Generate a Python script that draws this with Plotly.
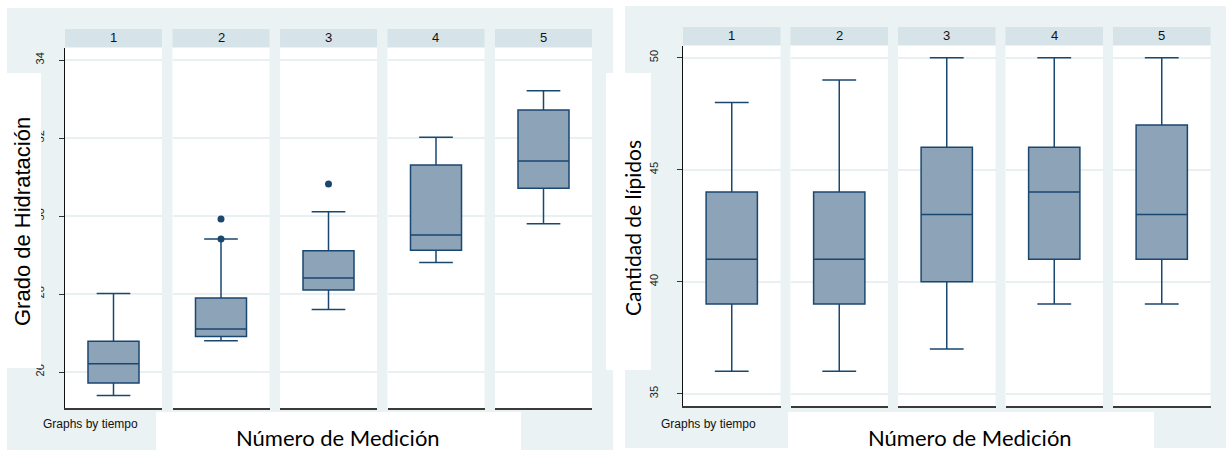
import plotly.graph_objects as go

W, H = 1226, 450

# ---------------- data ----------------
groups = ["1", "2", "3", "4", "5"]

# Left chart: Grado de Hidratación
hyd_low = [25.40, 26.80, 27.60, 28.81, 29.80]
hyd_q1 = [25.72, 26.91, 28.10, 29.12, 30.71]
hyd_median = [26.21, 27.10, 28.41, 29.51, 31.41]
hyd_q3 = [26.79, 27.90, 29.11, 31.31, 32.72]
hyd_high = [28.01, 29.41, 30.11, 32.02, 33.21]
hyd_outliers = [[], [29.92, 29.41], [30.82], [], []]
hyd_ticks = [26, 28, 30, 32, 34]

# Right chart: Cantidad de lípidos
lip_low = [36, 36, 37, 39, 39]
lip_q1 = [39, 39, 40, 41, 41]
lip_median = [41, 41, 43, 44, 43]
lip_q3 = [44, 44, 46, 46, 47]
lip_high = [48, 49, 50, 50, 50]
lip_ticks = [35, 40, 45, 50]

left_ytitle = "Grado de Hidratación"
right_ytitle = "Cantidad de lípidos"
xtitle = "Número de Medición"
note = "Graphs by tiempo"

# ---------------- style ----------------
BG = "#eaf2f3"
STRIP = "#d6e3e9"
NAVY = "#1a476f"
FILL = "#8da3b8"
GRID = "#e8f0f2"


def px(x):
    return x / W


def py(y):
    return 1 - y / H


fig = go.Figure()
layout = {}
shapes = []
annotations = []

charts = [
    dict(left=65, step=107.5, pw=97, top=48, bottom=408, strip=(29, 47),
         yr=(26 - 36 / 39, 34 + 12 / 39), ticks=hyd_ticks,
         low=hyd_low, q1=hyd_q1, med=hyd_median, q3=hyd_q3, high=hyd_high,
         out=hyd_outliers, standoff=10),
    dict(left=683, step=107.5, pw=97.5, top=46, bottom=406, strip=(27, 45),
         yr=(35 - 12.3 / 22.4, 50 + 11.7 / 22.4), ticks=lip_ticks,
         low=lip_low, q1=lip_q1, med=lip_median, q3=lip_q3, high=lip_high,
         out=[[], [], [], [], []], standoff=14),
]

# background panels (gray) and the white patches over them
shapes.append(dict(type="rect", xref="paper", yref="paper", layer="below",
                   x0=px(7), x1=px(613), y0=py(450), y1=py(8),
                   fillcolor=BG, line=dict(width=0)))
shapes.append(dict(type="rect", xref="paper", yref="paper", layer="below",
                   x0=px(625), x1=px(1226), y0=py(448), y1=py(6),
                   fillcolor=BG, line=dict(width=0)))
for (x0, y0, x1, y1, lay) in [(0, 73, 41, 368, "above"), (156, 412, 521, 450, "below"),
                              (606, 73, 651, 370, "below"), (788, 412, 1154, 448, "below")]:
    shapes.append(dict(type="rect", xref="paper", yref="paper", layer=lay,
                       x0=px(x0), x1=px(x1), y0=py(y1), y1=py(y0),
                       fillcolor="white", line=dict(width=0)))

k = 0
for c in charts:
    for i, g in enumerate(groups):
        k += 1
        xa = "x" if k == 1 else f"x{k}"
        ya = "y" if k == 1 else f"y{k}"
        x0 = c["left"] + c["step"] * i
        x1 = x0 + c["pw"]
        first = (i == 0)
        layout["xaxis" if k == 1 else f"xaxis{k}"] = dict(
            domain=[px(x0), px(x1)], anchor=ya, range=[-0.5, 0.5],
            showgrid=False, zeroline=False, showticklabels=False, ticks="",
            showline=True, linecolor="#3a3a3a", linewidth=1.6, mirror=False,
            fixedrange=True)
        layout["yaxis" if k == 1 else f"yaxis{k}"] = dict(
            domain=[py(c["bottom"]), py(c["top"])], anchor=xa,
            range=list(c["yr"]), tickvals=c["ticks"],
            showgrid=True, gridcolor=GRID, gridwidth=1.5, zeroline=False,
            showline=first, linecolor="#111111", linewidth=1.4,
            ticks="outside" if first else "", ticklen=5, tickwidth=1,
            tickcolor="#333333", showticklabels=first, tickangle=-90,
            ticklabelstandoff=c["standoff"],
            tickfont=dict(family="Liberation Sans, Arial", size=11, color="#222222"),
            fixedrange=True)
        fig.add_trace(go.Box(
            x=[0], q1=[c["q1"][i]], median=[c["med"][i]], q3=[c["q3"][i]],
            lowerfence=[c["low"][i]], upperfence=[c["high"][i]],
            width=0.526, whiskerwidth=0.66, boxpoints=False,
            fillcolor=FILL, line=dict(color=NAVY, width=1.5),
            xaxis=xa, yaxis=ya, showlegend=False, hoverinfo="skip"))
        if c["out"][i]:
            fig.add_trace(go.Scatter(
                x=[0] * len(c["out"][i]), y=c["out"][i], mode="markers",
                marker=dict(color=NAVY, size=7), xaxis=xa, yaxis=ya,
                showlegend=False, hoverinfo="skip"))
        # white plotting panel
        shapes.append(dict(type="rect", xref="paper", yref="paper", layer="below",
                           x0=px(x0), x1=px(x1), y0=py(c["bottom"]), y1=py(c["top"]),
                           fillcolor="white", line=dict(width=0)))
        # strip
        s0, s1 = c["strip"]
        shapes.append(dict(type="rect", xref="paper", yref="paper", layer="below",
                           x0=px(x0), x1=px(x1), y0=py(s1), y1=py(s0),
                           fillcolor=STRIP, line=dict(width=0)))
        annotations.append(dict(text=g, xref="paper", yref="paper",
                                x=px((x0 + x1) / 2), y=py((s0 + s1) / 2),
                                xanchor="center", yanchor="middle", showarrow=False,
                                font=dict(family="Liberation Sans, Arial", size=13,
                                          color="#111111")))

# titles
annotations += [
    dict(text=left_ytitle, xref="paper", yref="paper", x=px(22), y=py(222),
         textangle=-90, showarrow=False, xanchor="center", yanchor="middle",
         font=dict(family="Liberation Sans, Arial", size=22, color="#000000")),
    dict(text=right_ytitle, xref="paper", yref="paper", x=px(632), y=py(228),
         textangle=-90, showarrow=False, xanchor="center", yanchor="middle",
         font=dict(family="Lato, Open Sans", size=21, color="#000000")),
    dict(text=xtitle, xref="paper", yref="paper", x=px(338), y=py(437),
         showarrow=False, xanchor="center", yanchor="middle",
         font=dict(family="Lato, Open Sans", size=22, color="#000000")),
    dict(text=xtitle, xref="paper", yref="paper", x=px(970), y=py(437),
         showarrow=False, xanchor="center", yanchor="middle",
         font=dict(family="Lato, Open Sans", size=22, color="#000000")),
    dict(text=note, xref="paper", yref="paper", x=px(41), y=py(424),
         showarrow=False, xanchor="left", yanchor="middle",
         font=dict(family="Liberation Sans, Arial", size=12, color="#111111")),
    dict(text=note, xref="paper", yref="paper", x=px(659), y=py(424),
         showarrow=False, xanchor="left", yanchor="middle",
         font=dict(family="Liberation Sans, Arial", size=12, color="#111111")),
]

fig.update_layout(
    width=W, height=H, autosize=False,
    margin=dict(l=0, r=0, t=0, b=0, pad=0),
    paper_bgcolor="white", plot_bgcolor="white",
    shapes=shapes, annotations=annotations, showlegend=False,
    **layout)

fig.write_html("out.html", config={"displayModeBar": False},
               post_script="document.body.style.margin='0';"
                           "document.body.style.overflow='hidden';")
